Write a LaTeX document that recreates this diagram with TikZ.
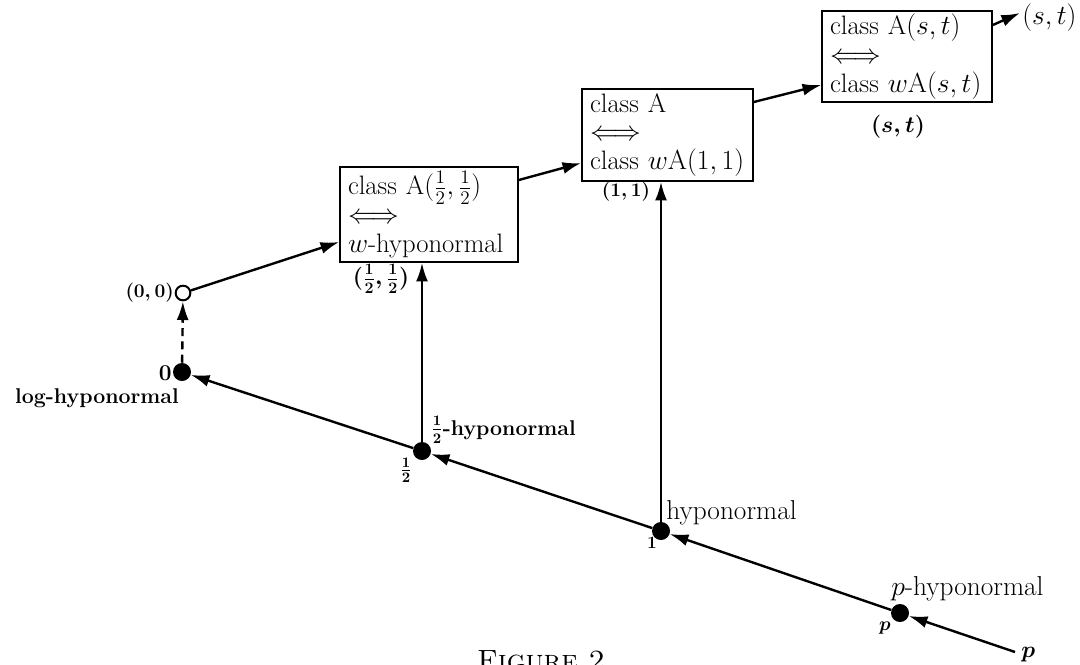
\documentclass[tikz,border=0pt]{standalone}
\usetikzlibrary{arrows.meta,calc}
\newcommand{\fs}[1]{\fontsize{#1}{#1}\selectfont}
\begin{document}
\begin{tikzpicture}[x=0.75pt,y=-0.75pt,
  arr/.style={line width=1.8pt,-{Latex[length=14pt,width=9pt]}},
  classbox/.style={draw,line width=1.2pt,align=left,inner xsep=6pt,inner ysep=2pt,
     font=\fontsize{20}{21.5}\selectfont},
  fdot/.style={circle,fill=black,inner sep=0pt,minimum size=13.5pt},
  odot/.style={circle,draw,line width=1.5pt,fill=white,inner sep=0pt,minimum size=11pt},
  blab/.style={inner sep=0pt,font=\fs{16}\bfseries},
  clab/.style={inner sep=0pt,font=\fs{15}\bfseries\boldmath},
  rlab/.style={inner sep=0pt,font=\fs{20.5}}]
\useasboundingbox (0,0) rectangle (1080,664);

% boxes
\node[classbox,text width=121.5pt,minimum height=71.25pt] (b1) at (429,214.5)
  {class A$(\frac12,\frac12)$\\$\Longleftrightarrow$\\$w$-hyponormal};
\node[classbox,text width=116.25pt,minimum height=69pt] (b2) at (667.5,135)
  {class A\\$\Longleftrightarrow$\\class $w\mathrm{A}(1,1)$};
\node[classbox,text width=115.5pt,minimum height=68.25pt] (b3) at (907,56.5)
  {class A$(s,t)$\\$\Longleftrightarrow$\\class $w\mathrm{A}(s,t)$};

% dots
\node[odot] (c00) at (183,293) {};
\node[fdot] (d0) at (182,372) {};
\node[fdot] (dh) at (422,451) {};
\node[fdot] (d1) at (661,531) {};
\node[fdot] (dp) at (900,613) {};
\coordinate (pend) at (1015,652);
\coordinate (st) at (1020,13);

% lower line
\draw[arr] (pend) -- (dp);
\draw[arr] (dp) -- (d1);
\draw[arr] (d1) -- (dh);
\draw[arr] (dh) -- (d0);

% verticals
\draw[arr,dashed,dash pattern=on 6pt off 4pt] (d0) -- (c00);
\draw[arr] (dh) -- (dh |- b1.south);
\draw[arr] (d1) -- (d1 |- b2.south);

% upper chain
\draw[arr] (c00) -- ($(b1.west)+(0,27.5)$);
\draw[arr] ($(b1.east)+(0,-34.5)$) -- ($(b2.west)+(0,28)$);
\draw[arr] ($(b2.east)+(0,-33)$) -- ($(b3.west)+(0,28.5)$);
\draw[arr] ($(b3.east)+(0,-31.5)$) -- (st);

% labels
\node[clab,anchor=east,font=\fs{14}\bfseries\boldmath] (l00) at (174,293) {$(0,0)$};
\node[blab,anchor=east,font=\fs{17}\bfseries] (l0) at (172,373) {0};
\node[blab] (llog) at (97,398) {log-hyponormal};
\node[blab,anchor=west,font=\fs{16}\bfseries\boldmath] (lhh) at (431,430) {$\frac12$-hyponormal};
\node[clab] (lh) at (406,470) {$\frac12$};
\node[rlab,anchor=west] (lhyp) at (666,513) {hyponormal};
\node[clab,font=\fs{13}\bfseries] (l1) at (652,543) {1};
\node[rlab,anchor=west] (lphyp) at (891,589) {$p$-hyponormal};
\node[clab,font=\fs{14}\bfseries\boldmath] (lp) at (885,628) {$p$};
\node[clab,font=\fs{18}\bfseries\boldmath,anchor=west] (lpe) at (1021,655) {$p$};
\node[clab,font=\fs{17}\bfseries\boldmath] (lhc) at (381,279) {$(\frac12,\frac12)$};
\node[clab,font=\fs{14.5}\bfseries\boldmath] (l11) at (626,192) {$(1,1)$};
\node[clab,font=\fs{16}\bfseries\boldmath] (lstb) at (898,127) {$(s,t)$};
\node[rlab,anchor=west] (lst) at (1022,18) {$(s,t)$};

% caption (cut off by the page edge, as in the reference)
\node[anchor=base,inner sep=0pt,font=\fs{22}] (cap) at (541,670) {\textsc{Figure 2}};
\end{tikzpicture}
\end{document}
